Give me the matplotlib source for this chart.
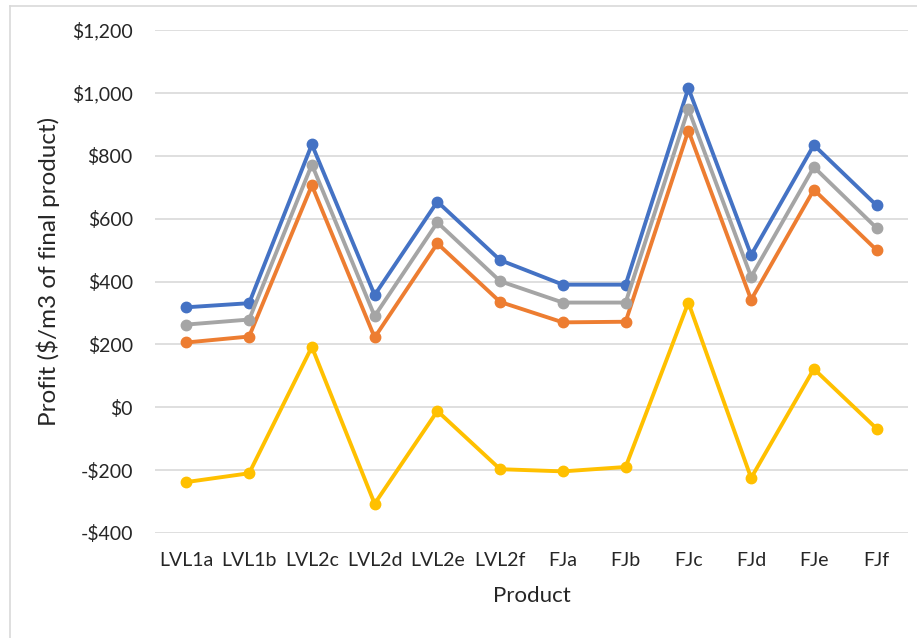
import matplotlib.pyplot as plt
from matplotlib.lines import Line2D
from matplotlib.ticker import FuncFormatter
import numpy as np

plt.rcParams['font.family'] = ['Lato', 'DejaVu Sans']

# Products on the category axis
products = ['LVL1a', 'LVL1b', 'LVL2c', 'LVL2d', 'LVL2e', 'LVL2f',
            'FJa', 'FJb', 'FJc', 'FJd', 'FJe', 'FJf']

# Profit per m3 of final product, one list per scenario
profit_blue = [318, 331, 836, 357, 654, 468, 390, 390, 1015, 484, 834, 642]
profit_orange = [206, 225, 706, 222, 521, 335, 270, 272, 880, 342, 692, 500]
profit_gray = [263, 279, 772, 290, 588, 401, 333, 333, 949, 415, 764, 570]
profit_yellow = [-238, -210, 192, -307, -12, -197, -204, -190, 333, -225, 122, -68]

series = [
    (profit_blue, '#4472C4'),
    (profit_orange, '#ED7D31'),
    (profit_gray, '#A5A5A5'),
    (profit_yellow, '#FFC000'),
]

fig = plt.figure(figsize=(9.17, 6.38), dpi=100)
ax = fig.add_axes([155 / 917, 1 - 533 / 638, 753 / 917, 503 / 638])

x = np.arange(len(products))
for values, color in series:
    ax.plot(x, values, color=color, lw=2.8, marker='o', markersize=7.5,
            solid_capstyle='round', solid_joinstyle='round', zorder=3)

ax.set_xlim(-0.5, len(products) - 0.5)
ax.set_ylim(-400, 1200)
ax.set_yticks(np.arange(-400, 1201, 200))
ax.yaxis.set_major_formatter(FuncFormatter(
    lambda v, pos: ('-$' if v < 0 else '$') + f'{abs(v):,.0f}'))
ax.set_xticks(x)
ax.set_xticklabels(products)

ax.grid(axis='y', color='#D9D9D9', lw=1.2, zorder=0)
ax.grid(axis='x', visible=False)
for s in ax.spines.values():
    s.set_visible(False)
ax.tick_params(axis='both', length=0, labelsize=14, colors='#262626')
ax.tick_params(axis='y', pad=16)
ax.tick_params(axis='x', pad=14)

ax.set_xlabel('Product', fontsize=16, color='#262626')
ax.set_ylabel('Profit ($/m3 of final product)', fontsize=17.5, color='#262626')
# place axis titles in figure pixel terms
ax.xaxis.set_label_coords(0.5, -63 / 503)
ax.yaxis.set_label_coords(-107 / 753, (533 - 271) / 503)
ax.xaxis.label.set_va('center')
ax.yaxis.label.set_va('center')

# Chart area border
fig.add_artist(Line2D([10 / 917, 10 / 917], [0, 1 - 6 / 638],
                      transform=fig.transFigure, color='#D9D9D9', lw=1.2))
fig.add_artist(Line2D([10 / 917, 1], [1 - 6 / 638, 1 - 6 / 638],
                      transform=fig.transFigure, color='#D9D9D9', lw=1.2))

fig.savefig('out.png', dpi=100)
